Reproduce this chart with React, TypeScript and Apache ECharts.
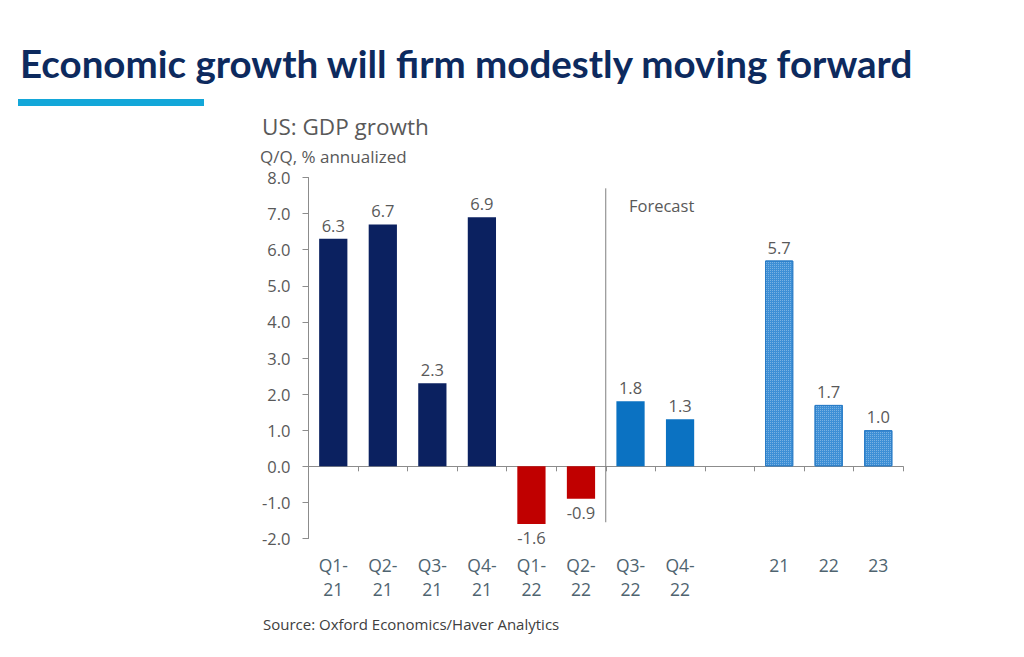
import React, { useEffect, useRef } from "react";
import * as echarts from "echarts";

const categories = ["Q1-\n21", "Q2-\n21", "Q3-\n21", "Q4-\n21", "Q1-\n22", "Q2-\n22", "Q3-\n22", "Q4-\n22", "", "21", "22", "23"];
const actualValues = [6.3, 6.7, 2.3, 6.9, -1.6, -0.9, null, null, null, null, null, null];
const quarterForecast = [null, null, null, null, null, null, 1.8, 1.3, null, null, null, null];
const annualForecast = [null, null, null, null, null, null, null, null, null, 5.7, 1.7, 1.0];
const yTicks = { min: -2, max: 8, interval: 1 };
const dividerLine = [[6, 7.7], [6, -1.55]];

const NAVY = "#0b2160";
const RED = "#c00000";
const BLUE = "#0b72c2";
const LIGHTBLUE = "#3d8fd6";
const GRAY_TEXT = "#595959";
const FONT = "'Open Sans', 'Noto Sans', sans-serif";

export default function App() {
  const ref = useRef<HTMLDivElement>(null);
  useEffect(() => {
    const chart = echarts.init(ref.current!, null, { renderer: "svg" });
    const labelFmt = (p: any) => (p.value == null ? "" : Number(p.value).toFixed(1));
    const barLabel = {
      show: true,
      position: "top",
      distance: 5,
      color: GRAY_TEXT,
      fontSize: 16.5,
      fontFamily: FONT,
      formatter: labelFmt,
    };
    const actualData = actualValues.map((v) =>
      v == null
        ? null
        : {
            value: v,
            itemStyle: { color: v < 0 ? RED : NAVY },
            label: { position: v < 0 ? "bottom" : "top" },
          }
    );
    chart.setOption({
      animation: false,
      backgroundColor: "#ffffff",
      title: [
        {
          text: "Economic growth will firm modestly moving forward",
          left: 15,
          top: 38,
          textStyle: { fontFamily: "Lato, sans-serif", fontWeight: "bold", fontSize: 38.5, color: "#0d2a5e" },
        },
        {
          text: "US: GDP growth",
          left: 257,
          top: 110,
          textStyle: { fontFamily: FONT, fontWeight: "normal", fontSize: 22.5, color: GRAY_TEXT },
        },
        {
          text: "Q/Q, % annualized",
          left: 255,
          top: 143,
          textStyle: { fontFamily: FONT, fontWeight: "normal", fontSize: 17, color: GRAY_TEXT },
        },
        {
          text: "Source: Oxford Economics/Haver Analytics",
          left: 258,
          top: 611,
          textStyle: { fontFamily: FONT, fontWeight: "normal", fontSize: 15, color: "#404040" },
        },
      ],
      graphic: [
        { type: "rect", shape: { x: 18, y: 99, width: 186, height: 7 }, style: { fill: "#13a7d9" } },
        {
          type: "text",
          x: 629,
          y: 197,
          style: { text: "Forecast", fill: GRAY_TEXT, fontSize: 16.5, fontFamily: FONT },
        },
      ],
      grid: { left: 308.5, right: 121, top: 177.5, bottom: 118.5, containLabel: false },
      xAxis: [
        {
          type: "category",
          data: categories,
          axisLine: { show: false, onZero: false },
          axisTick: { show: false },
          axisLabel: {
            color: "#4f6470",
            fontSize: 17.5,
            fontFamily: FONT,
            margin: 14,
            lineHeight: 24,
            interval: 0,
          },
        },
        {
          type: "category",
          data: categories,
          position: "top",
          axisLine: { show: true, onZero: true, lineStyle: { color: "#8c8c8c", width: 1 } },
          axisTick: { show: true, inside: true, length: 5, lineStyle: { color: "#8c8c8c" } },
          axisLabel: { show: false },
        },
        { type: "value", min: 0, max: 12, show: false },
      ],
      yAxis: {
        type: "value",
        min: yTicks.min,
        max: yTicks.max,
        interval: yTicks.interval,
        axisLine: { show: true, lineStyle: { color: "#8c8c8c" } },
        axisTick: { show: true, length: 6, lineStyle: { color: "#8c8c8c" } },
        splitLine: { show: false },
        axisLabel: {
          color: GRAY_TEXT,
          fontSize: 16.5,
          fontFamily: FONT,
          margin: 18,
          formatter: (v: number) => v.toFixed(1),
        },
      },
      series: [
        {
          type: "bar",
          name: "Actual",
          data: actualData,
          barWidth: "57%",
          barGap: "-100%",
          label: barLabel,
        },
        {
          type: "bar",
          name: "Quarterly forecast",
          data: quarterForecast,
          barWidth: "57%",
          barGap: "-100%",
          itemStyle: { color: BLUE },
          label: barLabel,
        },
        {
          type: "bar",
          name: "Annual forecast",
          data: annualForecast,
          barWidth: "57%",
          barGap: "-100%",
          itemStyle: {
            color: LIGHTBLUE,
            borderColor: "#2a7cc7",
            borderWidth: 1,
            decal: {
              symbol: "rect",
              symbolSize: 1,
              dashArrayX: [1, 1],
              dashArrayY: [1, 1],
              color: "rgba(255,255,255,0.3)",
            },
          },
          label: barLabel,
        },
        {
          type: "line",
          name: "divider",
          xAxisIndex: 2,
          data: dividerLine,
          symbol: "none",
          lineStyle: { color: "#7f7f7f", width: 1 },
          silent: true,
        },
      ],
    });
    return () => chart.dispose();
  }, []);
  return <div ref={ref} style={{ position: "fixed", left: 0, top: 0, width: 1024, height: 657 }} />;
}
